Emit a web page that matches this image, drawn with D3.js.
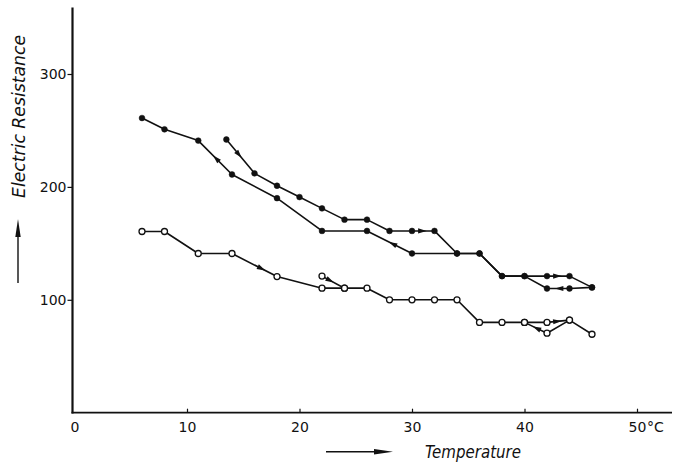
<!DOCTYPE html>
<html>
<head>
<meta charset="utf-8">
<script src="https://cdn.jsdelivr.net/npm/d3@7"></script>
<style>
  html, body { margin: 0; padding: 0; background: #fff; }
  svg { display: block; }
  text { fill: #111; }
</style>
</head>
<body>
<svg id="chart" width="673" height="467"></svg>
<script>
// Temperature (°C) vs. electric resistance readings.
// Filled-dot runs
const runA = [[6,261],[8,251],[11,241],[14,211],[18,190],[22,161],[26,161],[30,141],[34,141],[36,141],[38,121],[40,121],[42,110],[44,110],[46,111]];
const runB = [[13.5,242],[16,212],[18,201],[20,191],[22,181],[24,171],[26,171],[28,161],[30,161],[32,161],[34,141],[36,141],[38,121],[40,121],[42,121],[44,121],[46,111]];
// Open-circle runs
const runC = [[6,160.5],[8,160.5],[11,141],[14,141],[18,120.6],[22,110.3],[24,110.3],[26,110.3],[28,100],[30,100],[32,100],[34,100],[36,80],[38,80],[40,80],[42,80],[44,82],[46,69.5]];
const runD = [[22,121],[24,110.3]];
const runE = [[40,80],[42,70.4],[44,82]];

// Direction arrowheads: [run, temperature, direction (+1 = rising temperature)]
const arrowMarks = [
  ["A",12.6,-1],["A",28.3,-1],["A",43.1,-1],
  ["B",14.6,1],["B",30.9,1],["B",42.9,1],
  ["C",16.6,1],["C",42.9,1],["D",22.7,1],["E",41.1,-1]
];

const xTicks = [0,10,20,30,40,50];
const yTicks = [100,200,300];
const xUnit = "°C";
const xTitle = "Temperature";
const yTitle = "Electric Resistance";

const runs = [
  {key:"A", pts:runA, open:false},
  {key:"B", pts:runB, open:false},
  {key:"C", pts:runC, open:true},
  {key:"D", pts:runD, open:true},
  {key:"E", pts:runE, open:true}
];

const svg = d3.select("#chart");
svg.append("rect").attr("width",673).attr("height",467).attr("fill","#fff");

const x = d3.scaleLinear().domain([0,50]).range([74.5,637]);
const y = d3.scaleLinear().domain([0,300]).range([412.7,74]);
const axisX = 72.5;   // vertical axis position
const font = "'DejaVu Sans', sans-serif";

// Axes
const gy = svg.append("g").attr("transform",`translate(${axisX},0)`)
  .call(d3.axisLeft(y).tickValues(yTicks).tickSize(5).tickPadding(1));
gy.select(".domain").remove();
gy.selectAll("line").attr("stroke","#111").attr("stroke-width",1.2);
gy.selectAll("text").attr("font-family",font).attr("font-size",14).attr("fill","#111");

svg.append("line")
  .attr("x1",axisX).attr("x2",axisX)
  .attr("y1",y(359)).attr("y2",y(0)+0.8)
  .attr("stroke","#111").attr("stroke-width",2.2);

const gx = svg.append("g").attr("transform",`translate(0,${y(0)})`)
  .call(d3.axisBottom(x).tickValues(xTicks).tickSizeInner(-4).tickSizeOuter(0).tickPadding(9));
gx.select(".domain").remove();
gx.selectAll("line").attr("stroke","#111").attr("stroke-width",1.2);
gx.selectAll(".tick").filter(d => d === 0).select("line").remove();
gx.selectAll("text").attr("font-family",font).attr("font-size",14).attr("fill","#111");

svg.append("line")
  .attr("x1",axisX-1).attr("x2",672)
  .attr("y1",y(0)).attr("y2",y(0))
  .attr("stroke","#111").attr("stroke-width",1.8);

svg.append("text")
  .attr("x",x(50)+10).attr("y",y(0)+9).attr("dy","0.71em")
  .attr("font-family",font).attr("font-size",14)
  .text(xUnit);

// Axis titles with pointer arrows
svg.append("text")
  .attr("x",473).attr("y",458)
  .attr("text-anchor","middle")
  .attr("font-family","'DejaVu Sans Condensed', 'DejaVu Sans', sans-serif")
  .attr("font-style","oblique").attr("font-size",17)
  .attr("textLength",96).attr("lengthAdjust","spacingAndGlyphs")
  .text(xTitle);

svg.append("text")
  .attr("transform","translate(25,116.5) rotate(-90)")
  .attr("text-anchor","middle")
  .attr("font-family","'DejaVu Sans Condensed', 'DejaVu Sans', sans-serif")
  .attr("font-style","oblique").attr("font-size",17)
  .attr("textLength",163).attr("lengthAdjust","spacingAndGlyphs")
  .text(yTitle);

svg.append("line").attr("x1",326).attr("x2",380).attr("y1",451.7).attr("y2",451.7)
  .attr("stroke","#111").attr("stroke-width",1.4);
svg.append("path").attr("d","M393,451.7 L374,448.9 L374,454.5 Z").attr("fill","#111");

svg.append("line").attr("x1",18).attr("x2",18).attr("y1",283).attr("y2",232)
  .attr("stroke","#111").attr("stroke-width",1.4);
svg.append("path").attr("d","M18,219 L15.3,237 L20.7,237 Z").attr("fill","#111");

// Run lines
const line = d3.line().x(d => x(d[0])).y(d => y(d[1]));
svg.append("g").selectAll("path").data(runs).join("path")
  .attr("d", d => line(d.pts))
  .attr("fill","none").attr("stroke","#111").attr("stroke-width",1.6)
  .attr("stroke-linejoin","round");

// Direction arrowheads placed along their run
const runByKey = Object.fromEntries(runs.map(r => [r.key, r.pts]));
const arrowData = arrowMarks.map(([key,t,dir]) => {
  const pts = runByKey[key];
  let i = 0;
  while (i < pts.length-2 && t > pts[i+1][0]) i++;
  const p0 = pts[i], p1 = pts[i+1];
  const f = (t - p0[0]) / (p1[0] - p0[0]);
  const px = x(p0[0]) + f*(x(p1[0]) - x(p0[0]));
  const py = y(p0[1]) + f*(y(p1[1]) - y(p0[1]));
  let ang = Math.atan2(y(p1[1]) - y(p0[1]), x(p1[0]) - x(p0[0])) * 180/Math.PI;
  if (dir < 0) ang += 180;
  return {px, py, ang};
});
svg.append("g").selectAll("path").data(arrowData).join("path")
  .attr("d","M4.5,0 L-4,-2.6 L-4,2.6 Z")
  .attr("transform", d => `translate(${d.px},${d.py}) rotate(${d.ang})`)
  .attr("fill","#111");

// Markers
runs.forEach(r => {
  svg.append("g").selectAll("circle").data(r.pts).join("circle")
    .attr("cx", d => x(d[0])).attr("cy", d => y(d[1]))
    .attr("r", r.open ? 3 : 2.9)
    .attr("fill", r.open ? "#fff" : "#111")
    .attr("stroke","#111").attr("stroke-width", r.open ? 1.3 : 0.5);
});
</script>
</body>
</html>
